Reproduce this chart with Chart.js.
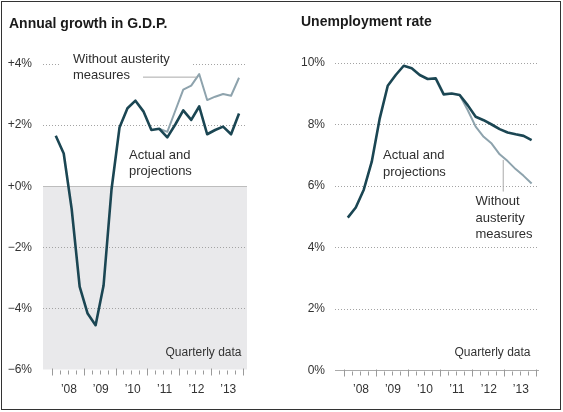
<!DOCTYPE html>
<html>
<head>
<meta charset="utf-8">
<script src="https://cdn.jsdelivr.net/npm/chart.js@4.4.1/dist/chart.umd.min.js"></script>
<style>
body { margin:0; background:#fff; font-family: Arial, "Liberation Sans", sans-serif; }
#wrap { position:relative; width:563px; height:412px; overflow:hidden; background:#fff; }
#frame { position:absolute; left:1px; top:1px; width:558px; height:407px; border:1px solid #333; pointer-events:none; }
canvas { position:absolute; top:0; }
.title { position:absolute; font-weight:bold; font-size:14px; line-height:16px; color:#1a1a1a; white-space:nowrap; }
.note { position:absolute; font-size:13px; line-height:16.6px; color:#2e2e2e; white-space:nowrap; }
.small { position:absolute; font-size:12px; line-height:14px; color:#333; white-space:nowrap; }
</style>
</head>
<body>
<div id="wrap">
    <canvas id="gdpChart" width="281" height="412" style="left:0;width:281px;height:412px"></canvas>
    <canvas id="unempChart" width="282" height="412" style="left:281px;width:282px;height:412px"></canvas>

    <div class="title" style="left:9px;top:15px">Annual growth in G.D.P.</div>
    <div class="title" style="left:301px;top:13px">Unemployment rate</div>

    <div class="note" style="left:61px;top:50.5px"><span style="background:#fff;padding:0 23px 0 12px">Without austerity</span><br><span style="padding-left:12px">measures</span></div>
    <div class="note" style="left:129px;top:146.5px">Actual and<br>projections</div>
    <div class="small" style="left:165.5px;top:344.8px">Quarterly data</div>

    <div class="note" style="left:383px;top:147px">Actual and<br>projections</div>
    <div class="note" style="left:475.5px;top:193px">Without<br>austerity<br>measures</div>
    <div class="small" style="left:454.5px;top:344.8px">Quarterly data</div>

    <div id="frame"></div>
</div>
<script>
// ===== Data =====
const quarters = [
    '2008 Q1', '2008 Q2', '2008 Q3', '2008 Q4',
    '2009 Q1', '2009 Q2', '2009 Q3', '2009 Q4',
    '2010 Q1', '2010 Q2', '2010 Q3', '2010 Q4',
    '2011 Q1', '2011 Q2', '2011 Q3', '2011 Q4',
    '2012 Q1', '2012 Q2', '2012 Q3', '2012 Q4',
    '2013 Q1', '2013 Q2', '2013 Q3', '2013 Q4'
];
const years = ['\u201908', '\u201909', '\u201910', '\u201911', '\u201912', '\u201913'];

const gdpActual = [1.65, 1.07, -0.75, -3.29, -4.17, -4.55, -3.25, -0.1, 1.92, 2.55, 2.8, 2.45,
    1.84, 1.88, 1.6, 2.02, 2.48, 2.17, 2.61, 1.7, 1.84, 1.95, 1.7, 2.38];
const gdpNoAusterity = [null, null, null, null, null, null, null, null, null, null, null, null,
    null, 1.88, 1.78, 2.47, 3.16, 3.29, 3.67, 2.82, 2.93, 3.02, 2.96, 3.55];
const gdpTicks = [-6, -4, -2, 0, 2, 4];

const unempActual = [4.97, 5.3, 5.88, 6.79, 8.2, 9.26, 9.61, 9.91, 9.83, 9.61, 9.48, 9.5,
    8.98, 9.01, 8.96, 8.63, 8.25, 8.14, 8.0, 7.85, 7.74, 7.68, 7.63, 7.49];
const unempNoAusterity = [null, null, null, null, null, null, null, null, null, null, null, null,
    null, null, 8.96, 8.47, 7.93, 7.6, 7.38, 7.03, 6.81, 6.55, 6.33, 6.08];
const unempTicks = [0, 2, 4, 6, 8, 10];

const DARK = '#1b4653';
const LIGHT = '#8ea3ad';
const FONT = 'Arial, "Liberation Sans", sans-serif';

Chart.defaults.font.family = FONT;
Chart.defaults.color = '#333';

const toPoints = arr => arr.map((v, i) => ({ x: i, y: v }));
// year labels sit in the middle of their four quarters
const yearCenters = years.map((_, i) => i * 4 + 1.65);

// grey area under zero (G.D.P. chart only)
const shadePlugin = {
    id: 'shade',
    beforeDraw(chart) {
        const { ctx, chartArea: a, scales: { y } } = chart;
        const top = y.getPixelForValue(0);
        ctx.save();
        ctx.fillStyle = '#e9e9eb';
        ctx.fillRect(a.left, top, a.right - a.left, a.bottom - top);
        ctx.restore();
    }
};

// small tick marks at every quarter, longer ones at year edges
const quarterTicks = {
    id: 'quarterTicks',
    afterDraw(chart) {
        const { ctx, chartArea: a, scales: { x } } = chart;
        ctx.save();
        ctx.strokeStyle = '#9a9a9a';
        ctx.lineWidth = 1;
        for (let k = 0; k <= quarters.length; k++) {
            const px = Math.round(x.getPixelForValue(k - 0.5)) + 0.5;
            const yearEdge = k % 4 === 0;
            ctx.beginPath();
            ctx.moveTo(px, a.bottom + (yearEdge ? -1 : 1));
            ctx.lineTo(px, a.bottom + (yearEdge ? 6 : 5));
            ctx.stroke();
        }
        ctx.restore();
    }
};

// thin leader line from a label to its series
const leaderPlugin = {
    id: 'leader',
    afterDatasetsDraw(chart, args, opts) {
        if (!opts || !opts.from) return;
        const { ctx, scales: { x, y } } = chart;
        ctx.save();
        ctx.strokeStyle = '#a9a9a9';
        ctx.lineWidth = 1;
        ctx.beginPath();
        ctx.moveTo(x.getPixelForValue(opts.from[0]), y.getPixelForValue(opts.from[1]));
        ctx.lineTo(x.getPixelForValue(opts.to[0]), y.getPixelForValue(opts.to[1]));
        ctx.stroke();
        ctx.restore();
    }
};

function lineSets(actual, other) {
    return [
        { data: toPoints(actual), borderColor: DARK, borderWidth: 2.6, pointRadius: 0, tension: 0, borderJoinStyle: 'round' },
        { data: toPoints(other), borderColor: LIGHT, borderWidth: 2, pointRadius: 0, tension: 0, borderJoinStyle: 'round' }
    ];
}

function xAxis(max, height, pad, showBorder) {
    return {
        type: 'linear', min: -1.6, max: max,
        afterBuildTicks: s => { s.ticks = yearCenters.map(v => ({ value: v })); },
        afterFit: s => { s.height = height; },
        grid: { display: false, drawTicks: false },
        border: { display: showBorder, color: '#aaa', width: 1 },
        ticks: {
            autoSkip: false, maxRotation: 0, padding: pad, color: '#333',
            font: { size: 12 },
            callback: v => years[yearCenters.indexOf(v)]
        }
    };
}

function initGdpChart() {
    new Chart(document.getElementById('gdpChart'), {
        type: 'line',
        data: { datasets: lineSets(gdpActual, gdpNoAusterity) },
        plugins: [shadePlugin, quarterTicks, leaderPlugin],
        options: {
            responsive: false, animation: false,
            layout: { padding: { top: 64, right: 34, left: 0, bottom: 0 } },
            plugins: {
                legend: { display: false }, tooltip: { enabled: false },
                leader: { from: [10.95, 3.57], to: [17.7, 3.57] }
            },
            scales: {
                x: xAxis(24, 42.5, 13, false),
                y: {
                    min: -6, max: 4,
                    afterBuildTicks: s => { s.ticks = gdpTicks.map(v => ({ value: v })); },
                    afterFit: s => { s.width = 43; },
                    grid: {
                        drawTicks: false,
                        color: c => c.tick.value === 0 ? '#bdbdbd' : (c.tick.value === -6 ? 'rgba(0,0,0,0)' : '#a3a3a3')
                    },
                    border: { display: false, dash: c => (c.tick && c.tick.value === 0) ? [] : [1, 2] },
                    ticks: {
                        padding: 11, color: '#333', font: { size: 12 },
                        callback: v => (v >= 0 ? '+' : '\u2212') + Math.abs(v) + '%'
                    }
                }
            }
        }
    });
}

function initUnempChart() {
    new Chart(document.getElementById('unempChart'), {
        type: 'line',
        data: { datasets: lineSets(unempActual, unempNoAusterity) },
        plugins: [quarterTicks, leaderPlugin],
        options: {
            responsive: false, animation: false,
            layout: { padding: { top: 63, right: 25, left: 0, bottom: 0 } },
            plugins: {
                legend: { display: false }, tooltip: { enabled: false },
                leader: { from: [19.45, 6.85], to: [19.45, 5.82] }
            },
            scales: {
                x: xAxis(23.8, 41.5, 12, true),
                y: {
                    min: 0, max: 10,
                    afterBuildTicks: s => { s.ticks = unempTicks.map(v => ({ value: v })); },
                    afterFit: s => { s.width = 54; },
                    grid: {
                        drawTicks: false,
                        color: c => c.tick.value === 0 ? 'rgba(0,0,0,0)' : '#a3a3a3'
                    },
                    border: { display: false, dash: [1, 2] },
                    ticks: {
                        padding: 10, color: '#333', font: { size: 12 },
                        callback: v => v + '%'
                    }
                }
            }
        }
    });
}

initGdpChart();
initUnempChart();
</script>
</body>
</html>
